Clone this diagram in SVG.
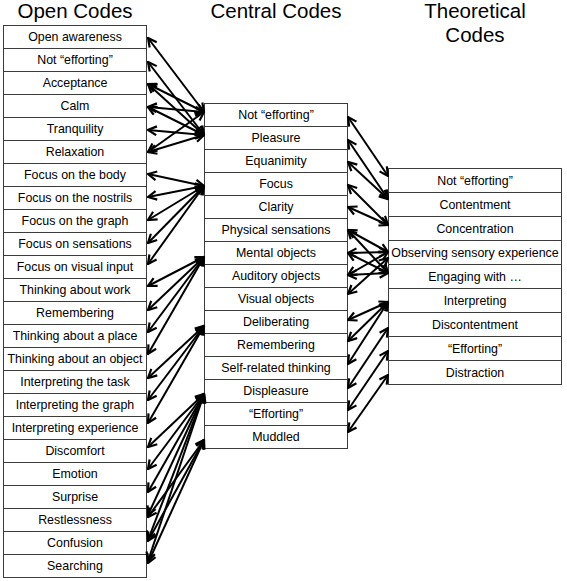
<svg xmlns="http://www.w3.org/2000/svg" width="567" height="581" viewBox="0 0 567 581">
<style>
.box{fill:#fff;stroke:#3c3c3c;stroke-width:1}
.t{font-family:"Liberation Sans",Arial,sans-serif;font-size:12.4px;fill:#000;text-anchor:middle}
.h{font-family:"Liberation Sans",Arial,sans-serif;font-size:20.5px;fill:#000;text-anchor:middle}
.c line{stroke:#000;stroke-width:2;marker-start:url(#ah);marker-end:url(#ah)}
</style>
<defs>
<marker id="ah" viewBox="0 0 10 10" refX="9" refY="5" markerWidth="11" markerHeight="11" markerUnits="userSpaceOnUse" orient="auto-start-reverse">
<path d="M1.2,1 L9,5 L1.2,9" fill="none" stroke="#000" stroke-width="2"/>
</marker>
</defs>
<rect width="567" height="581" fill="#fff"/>
<g id="titles">
<text class="h" x="75" y="18">Open Codes</text>
<text class="h" x="276" y="18">Central Codes</text>
<text class="h" x="475" y="18">Theoretical</text>
<text class="h" x="475" y="42">Codes</text>
</g>
<g id="open-codes">
<g id="o1"><rect class="box" x="3.5" y="25.5" width="143" height="23"/><text class="t" x="75" y="41">Open awareness</text></g>
<g id="o2"><rect class="box" x="3.5" y="48.5" width="143" height="23"/><text class="t" x="75" y="64">Not “efforting”</text></g>
<g id="o3"><rect class="box" x="3.5" y="71.5" width="143" height="23"/><text class="t" x="75" y="87">Acceptance</text></g>
<g id="o4"><rect class="box" x="3.5" y="94.5" width="143" height="23"/><text class="t" x="75" y="110">Calm</text></g>
<g id="o5"><rect class="box" x="3.5" y="117.5" width="143" height="23"/><text class="t" x="75" y="133">Tranquility</text></g>
<g id="o6"><rect class="box" x="3.5" y="140.5" width="143" height="23"/><text class="t" x="75" y="156">Relaxation</text></g>
<g id="o7"><rect class="box" x="3.5" y="163.5" width="143" height="23"/><text class="t" x="75" y="179">Focus on the body</text></g>
<g id="o8"><rect class="box" x="3.5" y="186.5" width="143" height="23"/><text class="t" x="75" y="202">Focus on the nostrils</text></g>
<g id="o9"><rect class="box" x="3.5" y="209.5" width="143" height="23"/><text class="t" x="75" y="225">Focus on the graph</text></g>
<g id="o10"><rect class="box" x="3.5" y="232.5" width="143" height="23"/><text class="t" x="75" y="248">Focus on sensations</text></g>
<g id="o11"><rect class="box" x="3.5" y="255.5" width="143" height="23"/><text class="t" x="75" y="271">Focus on visual input</text></g>
<g id="o12"><rect class="box" x="3.5" y="278.5" width="143" height="23"/><text class="t" x="75" y="294">Thinking about work</text></g>
<g id="o13"><rect class="box" x="3.5" y="301.5" width="143" height="23"/><text class="t" x="75" y="317">Remembering</text></g>
<g id="o14"><rect class="box" x="3.5" y="324.5" width="143" height="23"/><text class="t" x="75" y="340">Thinking about a place</text></g>
<g id="o15"><rect class="box" x="3.5" y="347.5" width="143" height="23"/><text class="t" x="75" y="363">Thinking about an object</text></g>
<g id="o16"><rect class="box" x="3.5" y="370.5" width="143" height="23"/><text class="t" x="75" y="386">Interpreting the task</text></g>
<g id="o17"><rect class="box" x="3.5" y="393.5" width="143" height="23"/><text class="t" x="75" y="409">Interpreting the graph</text></g>
<g id="o18"><rect class="box" x="3.5" y="416.5" width="143" height="23"/><text class="t" x="75" y="432">Interpreting experience</text></g>
<g id="o19"><rect class="box" x="3.5" y="439.5" width="143" height="23"/><text class="t" x="75" y="455">Discomfort</text></g>
<g id="o20"><rect class="box" x="3.5" y="462.5" width="143" height="23"/><text class="t" x="75" y="478">Emotion</text></g>
<g id="o21"><rect class="box" x="3.5" y="485.5" width="143" height="23"/><text class="t" x="75" y="501">Surprise</text></g>
<g id="o22"><rect class="box" x="3.5" y="508.5" width="143" height="23"/><text class="t" x="75" y="524">Restlessness</text></g>
<g id="o23"><rect class="box" x="3.5" y="531.5" width="143" height="23"/><text class="t" x="75" y="547">Confusion</text></g>
<g id="o24"><rect class="box" x="3.5" y="554.5" width="143" height="23"/><text class="t" x="75" y="570">Searching</text></g>
</g>
<g id="central-codes">
<g id="c1"><rect class="box" x="204.5" y="103.5" width="143" height="23"/><text class="t" x="276" y="119">Not “efforting”</text></g>
<g id="c2"><rect class="box" x="204.5" y="126.5" width="143" height="23"/><text class="t" x="276" y="142">Pleasure</text></g>
<g id="c3"><rect class="box" x="204.5" y="149.5" width="143" height="23"/><text class="t" x="276" y="165">Equanimity</text></g>
<g id="c4"><rect class="box" x="204.5" y="172.5" width="143" height="23"/><text class="t" x="276" y="188">Focus</text></g>
<g id="c5"><rect class="box" x="204.5" y="195.5" width="143" height="23"/><text class="t" x="276" y="211">Clarity</text></g>
<g id="c6"><rect class="box" x="204.5" y="218.5" width="143" height="23"/><text class="t" x="276" y="234">Physical sensations</text></g>
<g id="c7"><rect class="box" x="204.5" y="241.5" width="143" height="23"/><text class="t" x="276" y="257">Mental objects</text></g>
<g id="c8"><rect class="box" x="204.5" y="264.5" width="143" height="23"/><text class="t" x="276" y="280">Auditory objects</text></g>
<g id="c9"><rect class="box" x="204.5" y="287.5" width="143" height="23"/><text class="t" x="276" y="303">Visual objects</text></g>
<g id="c10"><rect class="box" x="204.5" y="310.5" width="143" height="23"/><text class="t" x="276" y="326">Deliberating</text></g>
<g id="c11"><rect class="box" x="204.5" y="333.5" width="143" height="23"/><text class="t" x="276" y="349">Remembering</text></g>
<g id="c12"><rect class="box" x="204.5" y="356.5" width="143" height="23"/><text class="t" x="276" y="372">Self-related thinking</text></g>
<g id="c13"><rect class="box" x="204.5" y="379.5" width="143" height="23"/><text class="t" x="276" y="395">Displeasure</text></g>
<g id="c14"><rect class="box" x="204.5" y="402.5" width="143" height="23"/><text class="t" x="276" y="418">“Efforting”</text></g>
<g id="c15"><rect class="box" x="204.5" y="425.5" width="143" height="23"/><text class="t" x="276" y="441">Muddled</text></g>
</g>
<g id="theoretical-codes">
<g id="t1"><rect class="box" x="388.5" y="168.5" width="173" height="24"/><text class="t" x="475" y="185">Not “efforting”</text></g>
<g id="t2"><rect class="box" x="388.5" y="192.5" width="173" height="24"/><text class="t" x="475" y="209">Contentment</text></g>
<g id="t3"><rect class="box" x="388.5" y="216.5" width="173" height="24"/><text class="t" x="475" y="233">Concentration</text></g>
<g id="t4"><rect class="box" x="388.5" y="240.5" width="173" height="24"/><text class="t" x="475" y="257">Observing sensory experience</text></g>
<g id="t5"><rect class="box" x="388.5" y="264.5" width="173" height="24"/><text class="t" x="475" y="281">Engaging with …</text></g>
<g id="t6"><rect class="box" x="388.5" y="288.5" width="173" height="24"/><text class="t" x="475" y="305">Interpreting</text></g>
<g id="t7"><rect class="box" x="388.5" y="312.5" width="173" height="24"/><text class="t" x="475" y="329">Discontentment</text></g>
<g id="t8"><rect class="box" x="388.5" y="336.5" width="173" height="24"/><text class="t" x="475" y="353">“Efforting”</text></g>
<g id="t9"><rect class="box" x="388.5" y="360.5" width="173" height="24"/><text class="t" x="475" y="377">Distraction</text></g>
</g>
<g id="connectors" class="c">
<line x1="148" y1="38" x2="204" y2="112"/>
<line x1="148" y1="62" x2="204" y2="135"/>
<line x1="148" y1="84" x2="204" y2="112"/>
<line x1="148" y1="84" x2="204" y2="135"/>
<line x1="148" y1="107" x2="204" y2="112"/>
<line x1="148" y1="107" x2="204" y2="135"/>
<line x1="148" y1="130" x2="204" y2="135"/>
<line x1="148" y1="152" x2="204" y2="112"/>
<line x1="148" y1="152" x2="204" y2="135"/>
<line x1="148" y1="174" x2="204" y2="186"/>
<line x1="148" y1="197" x2="204" y2="186"/>
<line x1="148" y1="220" x2="204" y2="186"/>
<line x1="148" y1="243" x2="204" y2="186"/>
<line x1="148" y1="264" x2="204" y2="186"/>
<line x1="148" y1="286" x2="204" y2="257"/>
<line x1="148" y1="310" x2="204" y2="257"/>
<line x1="148" y1="332" x2="204" y2="257"/>
<line x1="148" y1="354" x2="204" y2="257"/>
<line x1="148" y1="378" x2="204" y2="326"/>
<line x1="148" y1="400" x2="204" y2="326"/>
<line x1="148" y1="423" x2="204" y2="326"/>
<line x1="148" y1="447" x2="204" y2="394"/>
<line x1="148" y1="469" x2="204" y2="394"/>
<line x1="148" y1="492" x2="204" y2="394"/>
<line x1="148" y1="515" x2="204" y2="394"/>
<line x1="148" y1="540" x2="204" y2="394"/>
<line x1="148" y1="561" x2="204" y2="394"/>
<line x1="148" y1="517" x2="204" y2="440"/>
<line x1="148" y1="541" x2="204" y2="440"/>
<line x1="148" y1="563" x2="204" y2="440"/>
<line x1="348" y1="117" x2="388" y2="176"/>
<line x1="348" y1="140" x2="388" y2="199"/>
<line x1="348" y1="162" x2="388" y2="199"/>
<line x1="348" y1="185" x2="388" y2="225"/>
<line x1="348" y1="207" x2="388" y2="225"/>
<line x1="348" y1="230" x2="388" y2="252"/>
<line x1="348" y1="230" x2="388" y2="273"/>
<line x1="348" y1="253" x2="388" y2="252"/>
<line x1="348" y1="253" x2="388" y2="273"/>
<line x1="348" y1="275" x2="388" y2="252"/>
<line x1="348" y1="275" x2="388" y2="273"/>
<line x1="348" y1="294" x2="388" y2="258"/>
<line x1="348" y1="320" x2="388" y2="302"/>
<line x1="348" y1="341" x2="388" y2="302"/>
<line x1="348" y1="364" x2="388" y2="302"/>
<line x1="348" y1="388" x2="388" y2="328"/>
<line x1="348" y1="410" x2="388" y2="351"/>
<line x1="348" y1="432" x2="388" y2="375"/>
</g>
</svg>
